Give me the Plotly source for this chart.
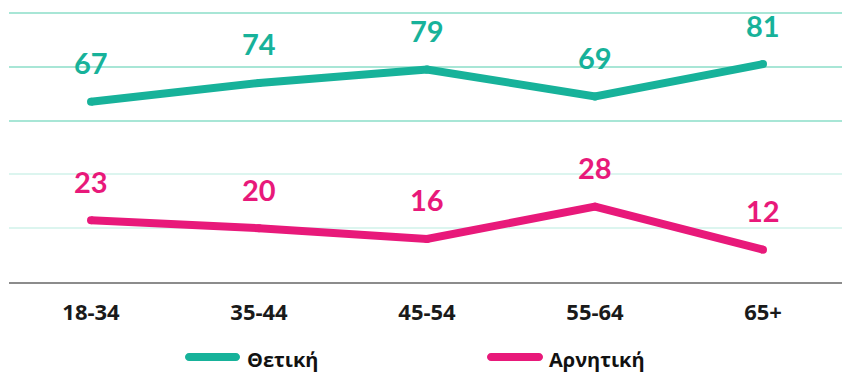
import plotly.graph_objects as go

# Age groups and share of responses (%)
age_groups = ["18-34", "35-44", "45-54", "55-64", "65+"]
positive = [67, 74, 79, 69, 81]
negative = [23, 20, 16, 28, 12]

series_names = ["Θετική", "Αρνητική"]
series_colors = ["#17b29a", "#e8197a"]

grid_strong = "#a8e6d6"
grid_soft = "#dcf5ef"

W, H = 842, 372
M_L, M_R, M_T, M_B = 9, 0, 8, 90
Y_TOP = 100 * (H - M_B - M_T) / (H - M_B - 13)

fig = go.Figure()

# Invisible trace on the secondary y axis so its grid gets drawn underneath
fig.add_trace(go.Scatter(x=[0], y=[0], yaxis="y2", mode="markers",
                         marker=dict(opacity=0), showlegend=False,
                         hoverinfo="skip"))

for vals, name, color in zip([positive, negative], series_names, series_colors):
    fig.add_trace(go.Scatter(
        x=list(range(len(age_groups))), y=vals, name=name,
        mode="lines+markers",
        line=dict(color=color, width=8),
        marker=dict(color=color, size=8),
        showlegend=False, cliponaxis=False,
        hoverinfo="skip",
    ))
    for i, v in enumerate(vals):
        fig.add_annotation(
            x=i, y=v, text=f"<b>{v}</b>", showarrow=False,
            yanchor="middle", yshift=39,
            font=dict(family="Lato", size=29, color=color),
        )

# Legend drawn as pill-shaped swatches with labels underneath the axis
pw = W - M_L - M_R
ph = H - M_T - M_B


def px_to_paper(px, py):
    return (px - M_L) / pw, (H - M_B - py) / ph


legend_items = [(185, 240, 245), (487, 543, 547)]
ly = 357
r = 4
for (x0, x1, tx), name, color in zip(legend_items, series_names, series_colors):
    a0, b0 = px_to_paper(x0 + r, ly - r)
    a1, b1 = px_to_paper(x1 - r, ly + r)
    ax0, _ = px_to_paper(x0, ly)
    ax1, _ = px_to_paper(x1, ly)
    bm = (b0 + b1) / 2
    k = 0.55
    dx = (a0 - ax0) * k
    dy = (b0 - b1) / 2 * k
    path = (
        f"M{a0},{b0} L{a1},{b0} "
        f"C{a1 + dx},{b0} {ax1},{bm + dy} {ax1},{bm} "
        f"C{ax1},{bm - dy} {a1 + dx},{b1} {a1},{b1} "
        f"L{a0},{b1} "
        f"C{a0 - dx},{b1} {ax0},{bm - dy} {ax0},{bm} "
        f"C{ax0},{bm + dy} {a0 - dx},{b0} {a0},{b0} Z"
    )
    fig.add_shape(type="path", path=path, xref="paper", yref="paper",
                  fillcolor=color, line=dict(width=0), layer="above")
    txp, typ = px_to_paper(tx, ly + 2)
    fig.add_annotation(
        x=txp, y=typ, xref="paper", yref="paper", text=f"<b>{name}</b>",
        showarrow=False, xanchor="left", yanchor="middle",
        font=dict(family="Open Sans", size=20, color="#111111"),
    )

fig.update_layout(
    width=W, height=H,
    margin=dict(l=M_L, r=M_R, t=M_T, b=M_B),
    paper_bgcolor="white", plot_bgcolor="white",
    showlegend=False,
    xaxis=dict(
        range=[-(91 - M_L) / 168, (W - M_R - 91) / 168],
        tickmode="array", tickvals=list(range(len(age_groups))),
        ticktext=[f"<b>{g}</b>" for g in age_groups],
        tickfont=dict(family="Open Sans", size=22, color="#1a1a1a"),
        showgrid=False, zeroline=False,
        showline=True, linecolor="#8c8c8c", linewidth=2,
        ticks="", ticklabelstandoff=10,
    ),
    yaxis=dict(
        range=[0, Y_TOP], tickmode="array", tickvals=[60, 80, 100],
        showticklabels=False, showgrid=True, gridcolor=grid_strong, gridwidth=2,
        zeroline=False, showline=False,
    ),
    yaxis2=dict(
        range=[0, Y_TOP], tickmode="array", tickvals=[20, 40], overlaying="y",
        showticklabels=False, showgrid=True, gridcolor=grid_soft, gridwidth=2,
        zeroline=False, showline=False,
    ),
)

fig.write_html("out.html")
